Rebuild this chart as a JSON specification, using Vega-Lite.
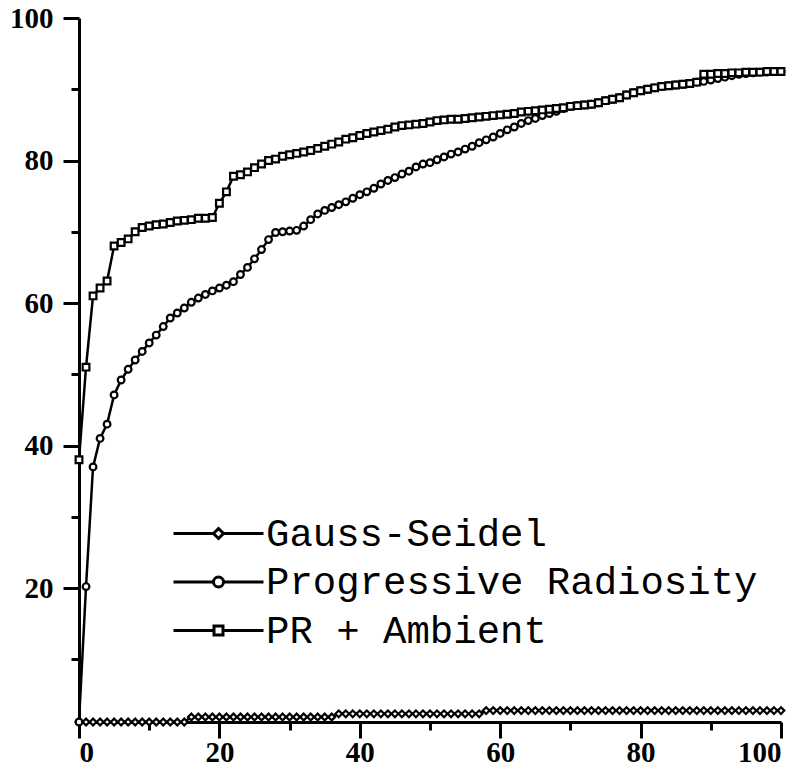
{
"$schema": "https://vega.github.io/schema/vega-lite/v6.json",
"width": 702, "height": 704,
"autosize": {"type": "none"},
"padding": {"left": 79, "top": 18, "right": 25, "bottom": 48},
"background": "white",
"config": {"view": {"stroke": null}, "axis": {"grid": false, "domainColor": "black", "domainWidth": 3, "tickColor": "black", "tickWidth": 3, "labelFont": "Liberation Serif", "labelFontWeight": "bold", "labelFontSize": 29, "labelColor": "black"}},
"data": {"values": [
{"x":0,"g":1.2,"p":1.2,"a":38},{"x":1,"g":1.2,"p":20.2,"a":51},{"x":2,"g":1.2,"p":37,"a":61},{"x":3,"g":1.2,"p":41,"a":62.1},{"x":4,"g":1.2,"p":43,"a":63.1},
{"x":5,"g":1.2,"p":47.1,"a":68},{"x":6,"g":1.2,"p":49.2,"a":68.5},{"x":7,"g":1.2,"p":50.7,"a":69},{"x":8,"g":1.2,"p":52,"a":70},{"x":9,"g":1.2,"p":53.2,"a":70.6},
{"x":10,"g":1.2,"p":54.4,"a":70.8},{"x":11,"g":1.2,"p":55.5,"a":71},{"x":12,"g":1.2,"p":56.7,"a":71.1},{"x":13,"g":1.2,"p":57.9,"a":71.3},{"x":14,"g":1.2,"p":58.6,"a":71.5},
{"x":15,"g":1.2,"p":59.3,"a":71.6},{"x":16,"g":1.9,"p":60.1,"a":71.7},{"x":17,"g":1.9,"p":60.7,"a":71.9},{"x":18,"g":1.9,"p":61.2,"a":71.9},{"x":19,"g":1.9,"p":61.7,"a":72},
{"x":20,"g":1.9,"p":62.1,"a":74},{"x":21,"g":1.9,"p":62.5,"a":75.6},{"x":22,"g":1.9,"p":63,"a":77.8},{"x":23,"g":1.9,"p":64,"a":78},{"x":24,"g":1.9,"p":65,"a":78.4},
{"x":25,"g":1.9,"p":66.2,"a":79},{"x":26,"g":1.9,"p":67.5,"a":79.5},{"x":27,"g":1.9,"p":68.9,"a":80},{"x":28,"g":1.9,"p":69.9,"a":80.2},{"x":29,"g":1.9,"p":70,"a":80.6},
{"x":30,"g":1.9,"p":70.1,"a":80.8},{"x":31,"g":1.9,"p":70.2,"a":81},{"x":32,"g":1.9,"p":70.8,"a":81.2},{"x":33,"g":1.9,"p":71.7,"a":81.4},{"x":34,"g":1.9,"p":72.5,"a":81.7},
{"x":35,"g":1.9,"p":73,"a":82},{"x":36,"g":1.9,"p":73.4,"a":82.3},{"x":37,"g":2.35,"p":73.8,"a":82.6},{"x":38,"g":2.35,"p":74.2,"a":83},{"x":39,"g":2.35,"p":74.7,"a":83.2},
{"x":40,"g":2.35,"p":75.2,"a":83.5},{"x":41,"g":2.35,"p":75.6,"a":83.8},{"x":42,"g":2.35,"p":76.1,"a":84},{"x":43,"g":2.35,"p":76.7,"a":84.2},{"x":44,"g":2.35,"p":77.2,"a":84.4},
{"x":45,"g":2.35,"p":77.6,"a":84.7},{"x":46,"g":2.35,"p":78.1,"a":84.9},{"x":47,"g":2.35,"p":78.5,"a":85},{"x":48,"g":2.35,"p":79.1,"a":85.1},{"x":49,"g":2.35,"p":79.5,"a":85.2},
{"x":50,"g":2.35,"p":79.7,"a":85.4},{"x":51,"g":2.35,"p":80.1,"a":85.6},{"x":52,"g":2.35,"p":80.5,"a":85.7},{"x":53,"g":2.35,"p":80.9,"a":85.8},{"x":54,"g":2.35,"p":81.2,"a":85.8},
{"x":55,"g":2.35,"p":81.6,"a":85.9},{"x":56,"g":2.35,"p":82,"a":86},{"x":57,"g":2.35,"p":82.5,"a":86.1},{"x":58,"g":2.8,"p":82.9,"a":86.2},{"x":59,"g":2.8,"p":83.3,"a":86.3},
{"x":60,"g":2.8,"p":83.8,"a":86.4},{"x":61,"g":2.8,"p":84.3,"a":86.5},{"x":62,"g":2.8,"p":84.7,"a":86.6},{"x":63,"g":2.8,"p":85.2,"a":86.8},{"x":64,"g":2.8,"p":85.6,"a":86.9},
{"x":65,"g":2.8,"p":85.9,"a":87},{"x":66,"g":2.8,"p":86.3,"a":87.1},{"x":67,"g":2.8,"p":86.6,"a":87.2},{"x":68,"g":2.8,"p":86.9,"a":87.3},{"x":69,"g":2.8,"p":87.3,"a":87.4},
{"x":70,"g":2.8,"p":87.6,"a":87.6},{"x":71,"g":2.8,"p":87.7,"a":87.7},{"x":72,"g":2.8,"p":87.8,"a":87.8},{"x":73,"g":2.8,"p":87.9,"a":87.9},{"x":74,"g":2.8,"p":88.1,"a":88.1},
{"x":75,"g":2.8,"p":88.4,"a":88.4},{"x":76,"g":2.8,"p":88.6,"a":88.6},{"x":77,"g":2.8,"p":88.8,"a":88.8},{"x":78,"g":2.8,"p":89.2,"a":89.2},{"x":79,"g":2.8,"p":89.5,"a":89.5},
{"x":80,"g":2.8,"p":89.8,"a":89.8},{"x":81,"g":2.8,"p":90,"a":90},{"x":82,"g":2.8,"p":90.2,"a":90.2},{"x":83,"g":2.8,"p":90.4,"a":90.4},{"x":84,"g":2.8,"p":90.5,"a":90.5},
{"x":85,"g":2.8,"p":90.6,"a":90.6},{"x":86,"g":2.8,"p":90.7,"a":90.7},{"x":87,"g":2.8,"p":90.8,"a":90.8},{"x":88,"g":2.8,"p":91,"a":91},{"x":89,"g":2.8,"p":91.1,"a":92.1},
{"x":90,"g":2.8,"p":91.3,"a":92.1},{"x":91,"g":2.8,"p":91.5,"a":92.2},{"x":92,"g":2.8,"p":91.7,"a":92.2},{"x":93,"g":2.8,"p":91.9,"a":92.3},{"x":94,"g":2.8,"p":92.1,"a":92.3},
{"x":95,"g":2.8,"p":92.2,"a":92.4},{"x":96,"g":2.8,"p":92.3,"a":92.4},{"x":97,"g":2.8,"p":92.4,"a":92.4},{"x":98,"g":2.8,"p":92.4,"a":92.5},{"x":99,"g":2.8,"p":92.5,"a":92.5},
{"x":100,"g":2.8,"p":92.5,"a":92.5}
]},
"transform": [{"fold": ["g", "p", "a"], "as": ["series", "y"]}],
"layer": [
{"mark": {"type": "line", "stroke": "black", "strokeWidth": 2.5},
 "encoding": {
  "x": {"field": "x", "type": "quantitative", "scale": {"domain": [0, 100], "nice": false, "zero": false}, "axis": {"orient": "bottom", "values": [0, 20, 40, 60, 80, 100], "tickSize": 16, "title": null, "labelPadding": 0}},
  "y": {"field": "y", "type": "quantitative", "scale": {"domain": [1.2, 100], "nice": false, "zero": false}, "axis": {"orient": "left", "values": [20, 40, 60, 80, 100], "tickSize": 16, "title": null, "labelPadding": 10}},
  "detail": {"field": "series", "type": "nominal"}
 }},
{"mark": {"type": "point", "filled": true, "fill": "white", "stroke": "black", "strokeWidth": 2.2, "size": 45, "opacity": 1},
 "encoding": {
  "x": {"field": "x", "type": "quantitative", "axis": {"orient": "bottom", "values": [10, 30, 50, 70, 90], "tickSize": 8, "labels": false, "domain": false, "title": null}},
  "y": {"field": "y", "type": "quantitative", "axis": {"orient": "left", "values": [10, 30, 50, 70, 90], "tickSize": 8, "labels": false, "domain": false, "title": null}},
  "shape": {"field": "series", "type": "nominal", "scale": {"domain": ["g", "p", "a"], "range": ["diamond", "circle", "square"]}, "legend": null}
 }},
{"mark": {"type": "point", "filled": false, "stroke": "black", "strokeWidth": 3, "opacity": 0, "size": 100},
 "encoding": {
  "x": {"field": "x", "type": "quantitative", "axis": null},
  "y": {"field": "y", "type": "quantitative", "axis": null},
  "shape": {"field": "series", "type": "nominal",
   "scale": {"domain": ["g", "p", "a"], "range": ["M-1,0L7,0M9,0L17,0M8,-1L9,0L8,1L7,0Z", "M-1,0L7,0M9,0L17,0M9,0A1,1,0,1,1,7,0A1,1,0,1,1,9,0Z", "M-1,0L7.1,0M8.9,0L17,0M7.1,-0.9L8.9,-0.9L8.9,0.9L7.1,0.9Z"]},
   "legend": {"orient": "none", "legendX": 80, "legendY": 496, "title": null, "padding": 0, "symbolSize": 100, "labelOffset": 68, "labelFont": "Liberation Mono", "labelFontSize": 39, "labelColor": "black", "labelLimit": 2000, "rowPadding": 8.5, "symbolStrokeWidth": 3, "symbolFillColor": "white", "symbolStrokeColor": "black", "symbolOpacity": 1,
    "labelExpr": "datum.value == 'g' ? 'Gauss-Seidel' : datum.value == 'p' ? 'Progressive Radiosity' : 'PR + Ambient'"}
  }
 }}
],
"resolve": {"axis": {"x": "independent", "y": "independent"}, "scale": {"shape": "independent"}}
}
